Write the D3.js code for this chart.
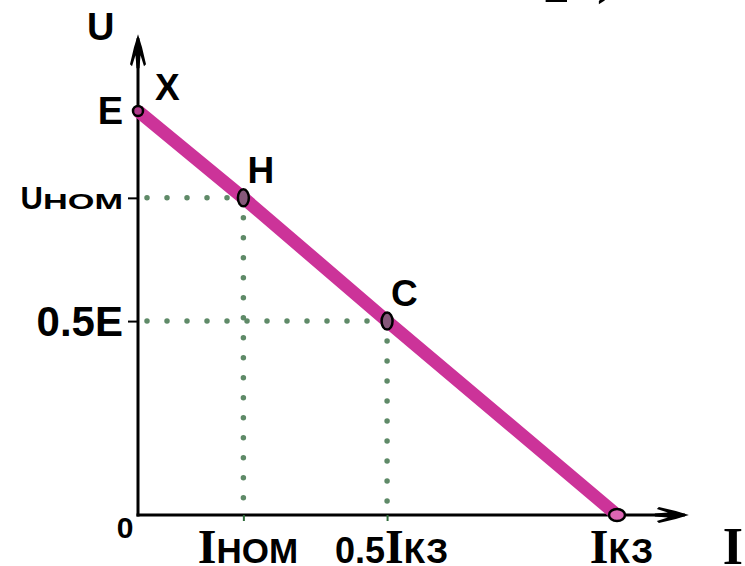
<!DOCTYPE html>
<html>
<head>
<meta charset="utf-8">
<script src="https://cdn.jsdelivr.net/npm/d3@7"></script>
<style>
  body { margin: 0; background: #fff; }
  svg { display: block; }
</style>
</head>
<body>
<svg id="chart"></svg>
<script>
// load line U = E - I*r, values in units of Iкз (current) and E (voltage)
const pointLabels = ["X", "H", "C", ""]
const currentValues = [0, 0.22, 0.52, 1]
const voltageValues = [1, 0.785, 0.48, 0]

const yTickValues = [1, 0.785, 0.48]
const yTickLabels = ["E", "Uном", "0.5E"]
const xTickValues = [0.22, 0.52, 1]
const xTickLabels = ["Iном", "0.5Iкз", "Iкз"]

const originLabel = "0"
const xTitle = "I"
const yTitle = "U"

const width = 745
const height = 566
const sans = "'Liberation Sans', Arial, sans-serif"
const serif = "'Liberation Serif', 'Times New Roman', serif"
const magenta = "#cc3399"
const dotColor = "#5f8a68"

const svg = d3.select("#chart").attr("width", width).attr("height", height)

const x = d3.scaleLinear().domain([0, 1]).range([138, 617])
const y = d3.scaleLinear().domain([0, 1]).range([515, 111])
const xEnd = 1.15
const yEnd = 1.19

const points = pointLabels.map((label, i) => ({ label, i: currentValues[i], u: voltageValues[i] }))

// splits a label into sans text, serif "I" and small-caps subscript
function fillLabel(textEl, str, o) {
  textEl.text(null)
  const parts = str.match(/I|[а-яё]+|[^Iа-яё]+/g)
  parts.forEach(p => {
    const t = textEl.append("tspan").text(p)
    if (p === "I") {
      t.style("font-family", serif).style("font-size", o.serifSize + "px")
    } else if (/[а-яё]/.test(p)) {
      t.style("font-family", sans).style("font-size", o.subSize + "px")
        .style("font-variant", "small-caps")
      if (o.stretch) {
        // the subscript on the voltage axis is drawn wide
        t.attr("textLength", o.stretch).attr("lengthAdjust", "spacingAndGlyphs")
      }
    } else {
      t.style("font-family", sans).style("font-size", o.size + "px")
    }
  })
}

// cut-off text at the very top (rest of the slide title)
const topText = svg.append("text")
  .style("font-family", serif).style("font-weight", "bold").style("font-size", "58px")
topText.append("tspan").attr("x", 541).attr("y", 2).text("1")
topText.append("tspan").attr("x", 597).attr("y", -8).text(")")

// dotted guide lines
const guides = svg.append("g")
  .attr("stroke", dotColor)
  .attr("stroke-width", 5.5)
  .attr("stroke-linecap", "round")
  .attr("stroke-dasharray", "0 20")

points.filter(d => d.i > 0 && d.i < 1).forEach(d => {
  guides.append("line")
    .attr("x1", x(0)).attr("y1", y(d.u))
    .attr("x2", x(d.i)).attr("y2", y(d.u))
    .attr("stroke-dashoffset", 11)
  guides.append("line")
    .attr("x1", x(d.i)).attr("y1", y(d.u))
    .attr("x2", x(d.i)).attr("y2", y(0) - 8)
})

// axes lines
svg.append("line")
  .attr("x1", x(0)).attr("y1", y(0) + 1.5)
  .attr("x2", x(0)).attr("y2", y(yEnd) + 4)
  .attr("stroke", "#000").attr("stroke-width", 3)
svg.append("line")
  .attr("x1", x(0) - 1.5).attr("y1", y(0))
  .attr("x2", x(xEnd) - 4).attr("y2", y(0))
  .attr("stroke", "#000").attr("stroke-width", 3)

// arrow heads
const arrowPath = "M0,0 L-13,-4 L-30,-8 L-32,-6 L-21,-2.5 L-34,-1.5 L-34,1.5 L-21,2.5 L-32,6 L-30,8 L-13,4 Z"
svg.append("path").attr("d", arrowPath).attr("fill", "#000")
  .attr("transform", `translate(${x(0)},${y(yEnd)}) rotate(-90)`)
svg.append("path").attr("d", arrowPath).attr("fill", "#000")
  .attr("transform", `translate(${x(xEnd)},${y(0)})`)

// y ticks and labels
const ySizes = [38, 31, 42]
const yAxis = d3.axisLeft(y).tickValues(yTickValues).tickSize(10)
  .tickFormat(d => yTickLabels[yTickValues.indexOf(d)])
const gy = svg.append("g").attr("transform", `translate(${x(0)},0)`).call(yAxis)
gy.select(".domain").remove()
gy.selectAll(".tick line")
  .attr("stroke", "#000").attr("stroke-width", 2)
  .attr("opacity", d => d === 1 ? 0 : 1)
gy.selectAll(".tick text").each(function (d) {
  const k = yTickValues.indexOf(d)
  const s = ySizes[k]
  const t = d3.select(this)
    .attr("x", -15).attr("dy", (0.34 * s) + "px")
    .attr("fill", "#000").attr("text-anchor", "end")
    .style("font-weight", "bold")
  fillLabel(t, yTickLabels[k], { size: s, serifSize: s, subSize: 32, stretch: 80 })
})

// x ticks and labels
const xAxis = d3.axisBottom(x).tickValues(xTickValues).tickSize(6)
  .tickFormat(d => xTickLabels[xTickValues.indexOf(d)])
const gx = svg.append("g").attr("transform", `translate(0,${y(0)})`).call(xAxis)
gx.select(".domain").remove()
gx.selectAll(".tick line")
  .attr("stroke", "#2e6b3a").attr("stroke-width", 2)
  .attr("opacity", d => d === 1 ? 0 : 1)
gx.selectAll(".tick text").each(function (d) {
  const k = xTickValues.indexOf(d)
  const t = d3.select(this)
    .attr("y", 48).attr("dy", 0).attr("dx", 4)
    .attr("fill", "#000").attr("text-anchor", "middle")
    .style("font-weight", "bold")
  fillLabel(t, xTickLabels[k], { size: 36, serifSize: 48, subSize: 50, stretch: 0 })
})

// origin and axis titles
svg.append("text")
  .attr("x", x(0) - 13).attr("y", y(0) + 23)
  .attr("text-anchor", "middle")
  .style("font-family", sans).style("font-weight", "bold").style("font-size", "30px")
  .text(originLabel)
svg.append("text")
  .attr("x", x(0) - 51).attr("y", 40)
  .style("font-family", sans).style("font-weight", "bold").style("font-size", "38px")
  .text(yTitle)
svg.append("text")
  .attr("x", x(xEnd) + 34).attr("y", 564)
  .style("font-family", serif).style("font-weight", "bold").style("font-size", "52px")
  .text(xTitle)

// load line
const line = d3.line().x(d => x(d.i)).y(d => y(d.u))
svg.append("path")
  .datum(points)
  .attr("d", line)
  .attr("fill", "none")
  .attr("stroke", magenta)
  .attr("stroke-width", 13)

// point markers
svg.selectAll("ellipse.pt")
  .data(points)
  .join("ellipse")
  .attr("class", "pt")
  .attr("cx", d => x(d.i))
  .attr("cy", d => y(d.u))
  .attr("rx", d => d.i === 0 ? 5 : d.i === 1 ? 8 : 5.5)
  .attr("ry", d => d.i === 0 ? 5 : d.i === 1 ? 6 : 8.5)
  .attr("fill", d => d.i === 1 ? "#dd66b4" : d.i === 0 ? "#b03a8a" : "#86587a")
  .attr("stroke", "#000")
  .attr("stroke-width", 2.5)

// point labels
svg.selectAll("text.pt")
  .data(points.filter(d => d.label))
  .join("text")
  .attr("class", "pt")
  .attr("x", d => x(d.i) + (d.i === 0 ? 17 : 4))
  .attr("y", d => y(d.u) - (d.i === 0 ? 11 : 15))
  .style("font-family", sans).style("font-weight", "bold").style("font-size", "37px")
  .text(d => d.label)
</script>
</body>
</html>
